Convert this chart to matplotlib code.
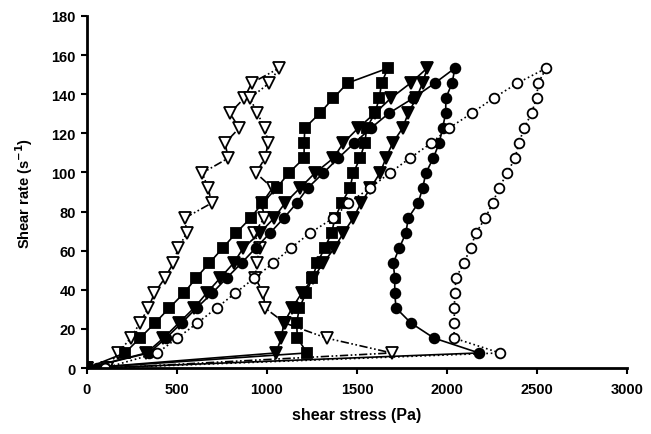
import matplotlib.pyplot as plt

# shear rate steps (s-1), same for every run
rate = [0, 7.7, 15.3, 23.0, 30.7, 38.3, 46.0, 53.7, 61.3, 69.0, 76.7,
        84.3, 92.0, 99.7, 107.3, 115.0, 122.7, 130.3, 138.0, 145.7, 153.3]

# shear stress (Pa), ramp up (rate 0 -> max) and ramp down (max -> 0)
open_circle_up = [100, 391, 502, 613, 720, 824, 930, 1035, 1132, 1239, 1369,
                  1452, 1572, 1682, 1794, 1913, 2012, 2138, 2259, 2392, 2552]
open_circle_down = [2552, 2507, 2498, 2470, 2429, 2400, 2378, 2335, 2289, 2254, 2213,
                    2161, 2131, 2094, 2050, 2044, 2041, 2041, 2039, 2294, 100]

filled_circle_up = [0, 344, 439, 526, 609, 696, 776, 859, 937, 1017, 1094,
                    1165, 1226, 1313, 1396, 1485, 1578, 1678, 1813, 1933, 2044]
filled_circle_down = [2044, 2029, 1994, 1993, 1976, 1957, 1924, 1883, 1865, 1840, 1785,
                      1772, 1735, 1702, 1710, 1710, 1717, 1800, 1928, 2178, 55]

square_up = [0, 211, 294, 378, 457, 539, 606, 680, 754, 828, 909,
             975, 1054, 1121, 1206, 1207, 1210, 1294, 1369, 1448, 1672]
square_down = [1672, 1637, 1624, 1600, 1554, 1544, 1517, 1480, 1461, 1415, 1378,
               1359, 1320, 1280, 1252, 1217, 1180, 1165, 1169, 1223, 0]

filled_tri_up = [0, 330, 425, 510, 595, 665, 740, 815, 868, 960, 1040,
                 1100, 1183, 1267, 1369, 1424, 1507, 1600, 1689, 1798, 1890]
filled_tri_down = [1890, 1865, 1830, 1785, 1754, 1698, 1661, 1628, 1575, 1522, 1480,
                   1424, 1375, 1313, 1257, 1193, 1140, 1094, 1080, 1050, 0]

open_tri_up = [110, 172, 243, 294, 341, 375, 433, 480, 507, 554, 544,
               692, 674, 640, 785, 767, 846, 794, 874, 915, 1067]
open_tri_down = [1067, 1013, 906, 946, 989, 1007, 989, 939, 1031, 972, 985,
                 930, 960, 943, 935, 980, 989, 1100, 1331, 1693, 110]

plt.rcParams['font.family'] = ['Liberation Sans', 'DejaVu Sans']

fig = plt.figure(figsize=(6.51, 4.35), dpi=100)
ax = fig.add_axes([0.1336, 0.1517, 0.8294, 0.8093])

rate_loop = rate + rate[::-1][1:]

# (up, down, marker, filled, linestyle, size)
series = [
    (open_tri_up, open_tri_down, 'v', False, (0, (5, 1.5, 1, 1.5, 1, 1.5)), 8.5),
    (square_up, square_down, 's', True, '-', 6.5),
    (filled_tri_up, filled_tri_down, 'v', True, '-', 8),
    (filled_circle_up, filled_circle_down, 'o', True, '-', 7),
    (open_circle_up, open_circle_down, 'o', False, ':', 7),
]

for up, down, mk, filled, ls, ms in series:
    x = up + down[1:]
    ax.plot(x, rate_loop, color='black', linestyle=ls, linewidth=1.2,
            marker=mk, markersize=ms, markerfacecolor='black' if filled else 'white',
            markeredgecolor='black', markeredgewidth=1.3)

ax.set_xlim(0, 3000)
ax.set_ylim(0, 180)
ax.set_xticks(range(0, 3001, 500))
ax.set_yticks(range(0, 181, 20))

for s in ['top', 'right']:
    ax.spines[s].set_visible(False)
for s in ['left', 'bottom']:
    ax.spines[s].set_linewidth(2)
ax.tick_params(direction='out', length=4, width=1.5, labelsize=10.5)
ax.tick_params(axis='x', pad=6)
ax.tick_params(axis='y', pad=4)
for lab in ax.get_xticklabels() + ax.get_yticklabels():
    lab.set_fontweight('bold')

ax.set_xlabel('shear stress (Pa)', fontsize=11.5, fontweight='bold', labelpad=8)
ax.set_ylabel('Shear rate (s$^{\\mathbf{-1}}$)', fontsize=10.5, fontweight='bold', labelpad=12)

fig.savefig('out.png', dpi=100)
